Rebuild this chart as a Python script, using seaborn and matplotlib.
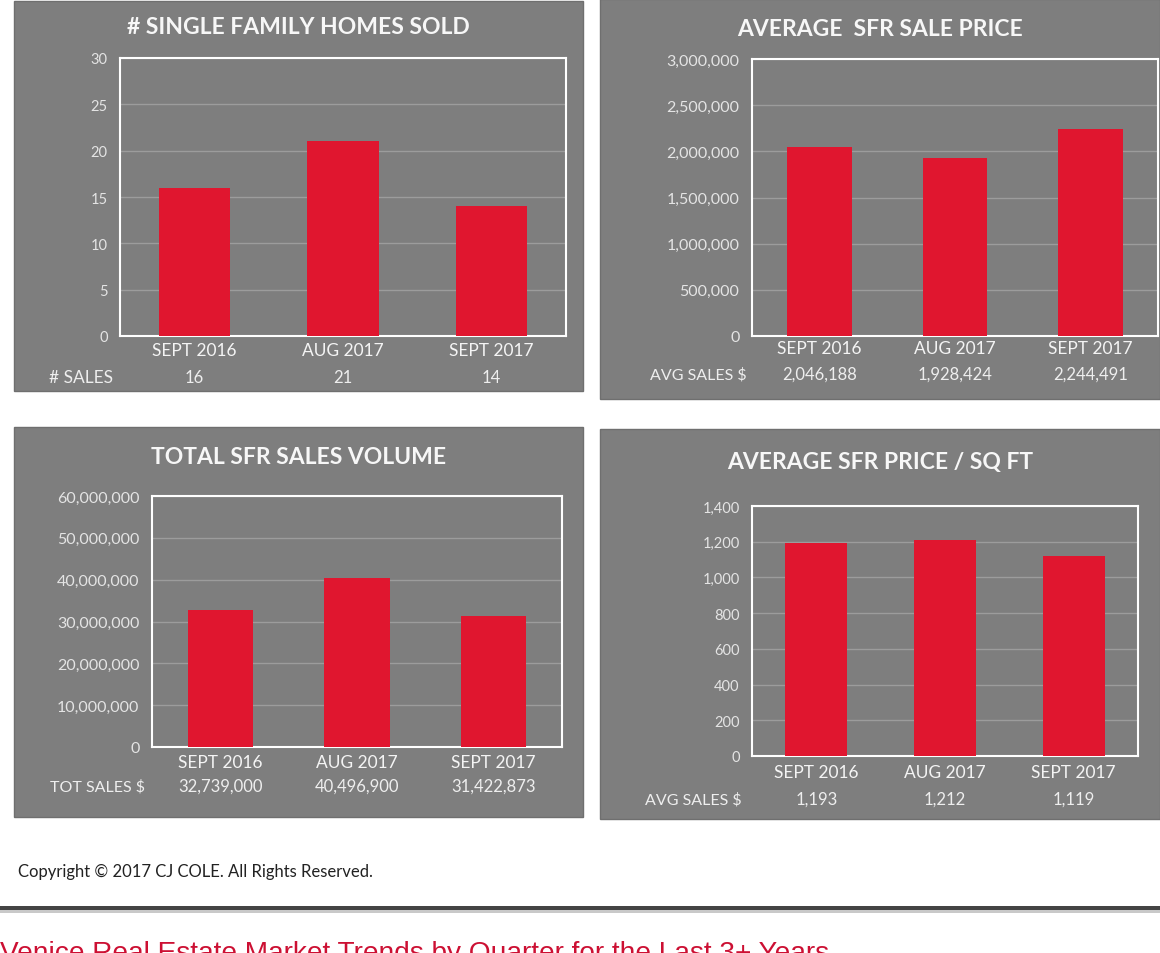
import matplotlib
matplotlib.use("Agg")
import matplotlib.pyplot as plt
import matplotlib.transforms as mtransforms
from matplotlib.patches import Rectangle
import seaborn as sns
import pandas as pd

# ---------------- data ----------------
periods = ["SEPT 2016", "AUG 2017", "SEPT 2017"]
homes_sold = [16, 21, 14]
avg_sale_price = [2046188, 1928424, 2244491]
total_volume = [32739000, 40496900, 31422873]
price_per_sqft = [1193, 1212, 1119]

titles = ["# SINGLE FAMILY HOMES SOLD", "AVERAGE  SFR SALE PRICE",
          "TOTAL SFR SALES VOLUME", "AVERAGE SFR PRICE / SQ FT"]
row_labels = ["# SALES", "AVG SALES $", "TOT SALES $", "AVG SALES $"]
y_ticks_1 = [0, 5, 10, 15, 20, 25, 30]
y_ticks_2 = [0, 500000, 1000000, 1500000, 2000000, 2500000, 3000000]
y_ticks_3 = [0, 10000000, 20000000, 30000000, 40000000, 50000000, 60000000]
y_ticks_4 = [0, 200, 400, 600, 800, 1000, 1200, 1400]

copyright_text = "Copyright \u00a9 2017 CJ COLE. All Rights Reserved."
footer_title = "Venice Real Estate Market Trends by Quarter for the Last 3+ Years"

series = [homes_sold, avg_sale_price, total_volume, price_per_sqft]
ticks = [y_ticks_1, y_ticks_2, y_ticks_3, y_ticks_4]

# ---------------- layout (pixels) ----------------
W, H = 1160, 954
PANEL_GREY = "#7e7e7e"
BAR_RED = "#e0162f"
GRID = "#9c9c9c"

layout = [
    dict(box=(14, 2, 583, 392), ax=(120, 59, 566, 337), title_y=27, cat_y=350, val_y=378, row_x=113,
         tfs=10.5, rfs=12.5),
    dict(box=(600, 0, 1160, 400), ax=(752, 60, 1158, 337), title_y=30, cat_y=348, val_y=375, row_x=747,
         tfs=11.5, rfs=11.5),
    dict(box=(14, 428, 583, 818), ax=(152, 497, 562, 748), title_y=458, cat_y=762, val_y=787, row_x=145,
         tfs=11.5, rfs=11.5),
    dict(box=(600, 430, 1160, 820), ax=(752, 507, 1138, 757), title_y=463, cat_y=772, val_y=800, row_x=742,
         tfs=10.5, rfs=11.5),
]

sns.set_theme(style="white")
plt.rcParams["font.family"] = ["Lato", "DejaVu Sans"]

fig = plt.figure(figsize=(W / 100, H / 100), dpi=100)
fig.patch.set_facecolor("white")


def fx(x):
    return x / W


def fy(y):
    return 1 - y / H


for i, spec in enumerate(layout):
    bx0, by0, bx1, by1 = spec["box"]
    fig.patches.append(Rectangle((fx(bx0), fy(by1)), (bx1 - bx0) / W, (by1 - by0) / H,
                                 transform=fig.transFigure, facecolor=PANEL_GREY,
                                 edgecolor="#6f6f6f", linewidth=1, zorder=0))
    fig.text(fx((bx0 + bx1) / 2), fy(spec["title_y"]), titles[i], color="#f7f7f7",
             fontsize=16.5, fontweight="bold", ha="center", va="center", zorder=5)

    ax0, ay0, ax1, ay1 = spec["ax"]
    ax = fig.add_axes([fx(ax0), fy(ay1), (ax1 - ax0) / W, (ay1 - ay0) / H])
    ax.set_zorder(2)
    ax.set_facecolor("none")
    df = pd.DataFrame({"period": periods, "value": series[i]})
    sns.barplot(data=df, x="period", y="value", color=BAR_RED, width=0.48,
                saturation=1, linewidth=0, ax=ax, zorder=3)
    t = ticks[i]
    ax.set_ylim(t[0], t[-1])
    ax.set_yticks(t)
    ax.set_yticklabels([f"{v:,}" for v in t])
    ax.set_xlim(-0.5, 2.5)
    ax.set_xlabel("")
    ax.set_ylabel("")
    ax.grid(axis="y", color=GRID, linewidth=1, zorder=1)
    ax.set_axisbelow(True)
    for s in ax.spines.values():
        s.set_color("white")
        s.set_linewidth(1.5)
        s.set_visible(True)
    ax.tick_params(axis="y", length=0, pad=9, labelsize=spec["tfs"], labelcolor="#e4e4e4")
    pad_px = spec["cat_y"] - ay1 - 7
    ax.tick_params(axis="x", length=0, pad=pad_px * 0.72, labelsize=12.5, labelcolor="#f4f4f4")

    trans = mtransforms.blended_transform_factory(ax.transData, fig.transFigure)
    for j, v in enumerate(series[i]):
        ax.text(j, fy(spec["val_y"]), f"{v:,}", transform=trans, ha="center", va="center",
                fontsize=12, color="#eeeeee", clip_on=False)
    fig.text(fx(spec["row_x"]), fy(spec["val_y"]), row_labels[i], ha="right", va="center",
             fontsize=spec["rfs"], color="#eeeeee", zorder=5)

# footer
fig.text(fx(18), fy(872), copyright_text, ha="left", va="center", fontsize=12, color="#222222")
fig.patches.append(Rectangle((0, fy(911)), 1, 4 / H, transform=fig.transFigure,
                             facecolor="#444444", edgecolor="none"))
fig.patches.append(Rectangle((0, fy(914)), 1, 3 / H, transform=fig.transFigure,
                             facecolor="#c9c9c9", edgecolor="none"))
fig.text(fx(0), fy(941), footer_title, ha="left", va="top", fontsize=20.2,
         color="#cc1033", family=["Liberation Sans", "DejaVu Sans"])

fig.savefig("out.png", dpi=100, facecolor="white")
